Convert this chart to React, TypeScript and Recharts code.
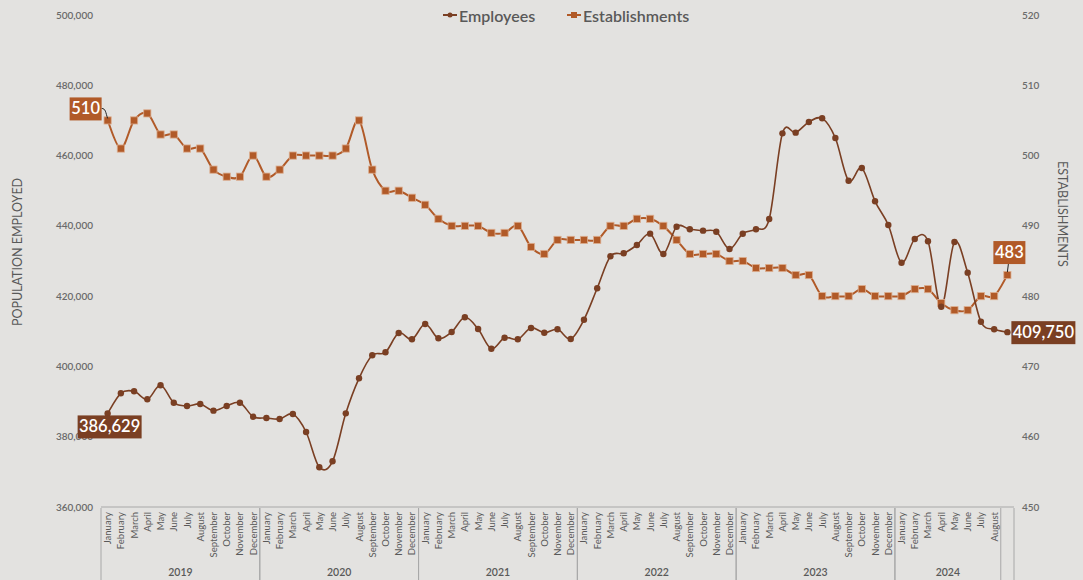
import React from 'react'
import { LineChart, Line, XAxis, YAxis } from 'recharts'

// Jan 2019 .. Sep 2024 (last slot has no month label in the source chart)
const monthNames = [
  'January', 'February', 'March', 'April', 'May', 'June',
  'July', 'August', 'September', 'October', 'November', 'December',
]
const years = ['2019', '2020', '2021', '2022', '2023', '2024']
const monthsInYear = [12, 12, 12, 12, 12, 8]

const employees = [
  386629, 392350, 392920, 390640, 394630, 389680, 388740, 389310, 387410, 388740, 389680, 385690,
  385330, 385040, 386460, 381340, 371300, 373000, 386650, 396620, 403170, 404020, 409500, 407720,
  412070, 408000, 409800, 413980, 410650, 405050, 408180, 407720, 410930, 409600, 410560, 407810,
  413300, 422230, 431340, 432190, 434550, 437780, 431990, 439750, 439020, 438630, 438340, 433420,
  437770, 439020, 441950, 466330, 466520, 469560, 470600, 465000, 452850, 456460, 446990, 440240,
  429520, 436260, 435610, 416990, 435420, 426680, 412730, 410560, 409750,
]

const establishments = [
  505, 501, 505, 506, 503, 503, 501, 501, 498, 497, 497, 500,
  497, 498, 500, 500, 500, 500, 501, 505, 498, 495, 495, 494,
  493, 491, 490, 490, 490, 489, 489, 490, 487, 486, 488, 488,
  488, 488, 490, 490, 491, 491, 490, 488, 486, 486, 486, 485,
  485, 484, 484, 484, 483, 483, 480, 480, 480, 481, 480, 480,
  480, 481, 481, 479, 478, 478, 480, 480, 483,
]

const employeeTicks = [360000, 380000, 400000, 420000, 440000, 460000, 480000, 500000]
const establishmentTicks = [450, 460, 470, 480, 490, 500, 510, 520]

// callout texts as printed on the source chart (first, last)
const employeeCallouts = ['386,629', '409,750']
const establishmentCallouts = ['510', '483']

const EMP_COLOR = '#7a3f23'
const EST_COLOR = '#b15a28'
const TEXT_GRAY = '#595959'
const AXIS_GRAY = '#a8a8a8'
const BG = '#e3e2e0'
const FONT = 'Lato, "Open Sans", sans-serif'

const W = 1083
const H = 580
const PLOT_LEFT = 101
const PLOT_RIGHT = 1014
const PLOT_TOP = 15
const PLOT_BOTTOM = 507

type Row = {
  idx: number
  month: string
  year: string
  firstOfYear: boolean
  lastOfYear: boolean
  span: number
  employees: number
  establishments: number
}

const data: Row[] = []
years.forEach((yr, yi) => {
  for (let m = 0; m < monthsInYear[yi]; m++) {
    const i = data.length
    data.push({
      idx: i,
      month: monthNames[m],
      year: yr,
      firstOfYear: m === 0,
      lastOfYear: m === monthsInYear[yi] - 1,
      span: monthsInYear[yi],
      employees: employees[i],
      establishments: establishments[i],
    })
  }
})
data.push({
  idx: data.length,
  month: '',
  year: '',
  firstOfYear: false,
  lastOfYear: false,
  span: 0,
  employees: employees[data.length],
  establishments: establishments[data.length],
})

const LAST = data.length - 1
const BW = (PLOT_RIGHT - PLOT_LEFT) / data.length

// Excel-like smoothed line (Catmull-Rom through every point)
function smoothCurve(context: any) {
  let pts: number[][] = []
  return {
    areaStart() {},
    areaEnd() {},
    lineStart() {
      pts = []
    },
    point(x: number, y: number) {
      pts.push([+x, +y])
    },
    lineEnd() {
      const n = pts.length
      if (!n) return
      context.moveTo(pts[0][0], pts[0][1])
      for (let i = 0; i < n - 1; i++) {
        const p0 = pts[i - 1] || pts[i]
        const p1 = pts[i]
        const p2 = pts[i + 1]
        const p3 = pts[i + 2] || p2
        context.bezierCurveTo(
          p1[0] + (p2[0] - p0[0]) / 6,
          p1[1] + (p2[1] - p0[1]) / 6,
          p2[0] - (p3[0] - p1[0]) / 6,
          p2[1] - (p3[1] - p1[1]) / 6,
          p2[0],
          p2[1],
        )
      }
    },
  }
}

const MonthTick = (props: any) => {
  const { x, payload } = props
  const d = data[payload.index]
  if (!d) return null
  const axisY = PLOT_BOTTOM + 1
  return (
    <g>
      {d.month && (
        <text
          transform={`translate(${x + 3.5},${axisY + 4}) rotate(-90)`}
          textAnchor="end"
          fontSize={9.5}
          fill={TEXT_GRAY}
          fontFamily={FONT}
        >
          {d.month}
        </text>
      )}
      {d.firstOfYear && (
        <line x1={x - BW / 2} x2={x - BW / 2} y1={axisY} y2={H} stroke={AXIS_GRAY} />
      )}
      {d.firstOfYear && (
        <text
          x={x - BW / 2 + (d.span * BW) / 2}
          y={576}
          textAnchor="middle"
          fontSize={10.5}
          fontWeight={600}
          fill={TEXT_GRAY}
          fontFamily={FONT}
        >
          {d.year}
        </text>
      )}
      {(d.lastOfYear || payload.index === LAST) && (
        <line x1={x + BW / 2} x2={x + BW / 2} y1={axisY} y2={H} stroke={AXIS_GRAY} />
      )}
    </g>
  )
}

const EmployeeDot = (props: any) => {
  const { cx, cy, index } = props
  return <circle key={`e${index}`} cx={cx} cy={cy} r={3.2} fill={EMP_COLOR} />
}

const EstablishmentDot = (props: any) => {
  const { cx, cy, index } = props
  return (
    <rect
      key={`s${index}`}
      x={cx - 3.6}
      y={cy - 3.6}
      width={7.2}
      height={7.2}
      fill={EST_COLOR}
      stroke="#dcae90"
      strokeWidth={0.8}
    />
  )
}

const Callout = ({ x, y, w, text, fill }: { x: number; y: number; w: number; text: string; fill: string }) => (
  <g>
    <rect x={x} y={y} width={w} height={23} fill={fill} />
    <text
      x={x + w / 2}
      y={y + 17}
      textAnchor="middle"
      fontSize={16.5}
      fontWeight={600}
      fill="#ffffff"
      fontFamily={FONT}
    >
      {text}
    </text>
  </g>
)

const renderEmployeeLabel = (props: any) => {
  const { x, y, index } = props
  if (index === 0) {
    return <Callout key="el0" x={x - 30} y={y + 2} w={64} text={employeeCallouts[0]} fill={EMP_COLOR} />
  }
  if (index === LAST) {
    return <Callout key="el1" x={x + 4} y={y - 11} w={64} text={employeeCallouts[1]} fill={EMP_COLOR} />
  }
  return null
}

const renderEstablishmentLabel = (props: any) => {
  const { x, y, index } = props
  if (index === 0) {
    return (
      <g key="sl0">
        <path d={`M${x - 6},${y - 12} C${x - 2},${y - 12} ${x - 2},${y - 8} ${x},${y - 2}`} stroke="#222" fill="none" strokeWidth={1} />
        <Callout x={x - 38} y={y - 23} w={32} text={establishmentCallouts[0]} fill={EST_COLOR} />
      </g>
    )
  }
  if (index === LAST) {
    return (
      <g key="sl1">
        <path d={`M${x + 1},${y - 11} L${x},${y - 3}`} stroke="#222" fill="none" strokeWidth={1} />
        <Callout x={x - 14} y={y - 34} w={32} text={establishmentCallouts[1]} fill={EST_COLOR} />
      </g>
    )
  }
  return null
}

const leftTitle = () => (
  <text
    transform="translate(22,252) rotate(-90)"
    textAnchor="middle"
    fontSize={12.5}
    fill={TEXT_GRAY}
    fontFamily={FONT}
  >
    POPULATION EMPLOYED
  </text>
)

const rightTitle = () => (
  <text
    transform="translate(1058,214) rotate(90)"
    textAnchor="middle"
    fontSize={12.5}
    fill={TEXT_GRAY}
    fontFamily={FONT}
  >
    ESTABLISHMENTS
  </text>
)

function LegendItem({ left, label, square }: { left: number; label: string; square?: boolean }) {
  const color = square ? EST_COLOR : EMP_COLOR
  return (
    <div style={{ position: 'absolute', left, top: 4, display: 'flex', alignItems: 'center', height: 22 }}>
      <svg width={15} height={10} style={{ marginRight: 1 }}>
        <line x1={0} x2={14} y1={5} y2={5} stroke={color} strokeWidth={2} />
        {square ? (
          <rect x={4} y={2} width={6} height={6} fill={color} />
        ) : (
          <circle cx={7} cy={5} r={2.5} fill={color} />
        )}
      </svg>
      <span style={{ fontSize: 16, color: TEXT_GRAY, fontFamily: FONT, fontWeight: 600 }}>{label}</span>
    </div>
  )
}

export default function App() {
  return (
    <div
      style={{
        position: 'absolute',
        left: 0,
        top: 0,
        width: W,
        height: H,
        background: BG,
        fontFamily: FONT,
        overflow: 'hidden',
      }}
    >
      <LineChart width={W} height={H} data={data} margin={{ top: PLOT_TOP, right: 0, bottom: 0, left: 0 }}>
        <XAxis
          dataKey="idx"
          type="category"
          interval={0}
          height={H - PLOT_BOTTOM}
          padding={{ left: BW / 2, right: BW / 2 }}
          tickLine={false}
          axisLine={{ stroke: AXIS_GRAY }}
          tick={<MonthTick />}
        />
        <YAxis
          yAxisId="emp"
          orientation="left"
          width={PLOT_LEFT}
          domain={[360000, 500000]}
          ticks={employeeTicks}
          tickLine={false}
          axisLine={false}
          tickFormatter={(v: number) => v.toLocaleString('en-US')}
          tick={{ fontSize: 10, fill: '#6a6a6a', fontWeight: 600 }}
          label={leftTitle}
        />
        <YAxis
          yAxisId="est"
          orientation="right"
          width={W - PLOT_RIGHT}
          domain={[450, 520]}
          ticks={establishmentTicks}
          tickLine={false}
          axisLine={false}
          tick={{ fontSize: 10, fill: '#6a6a6a', fontWeight: 600, textAnchor: 'start' }}
          label={rightTitle}
        />
        <Line
          yAxisId="est"
          dataKey="establishments"
          type={smoothCurve as any}
          stroke={EST_COLOR}
          strokeWidth={2}
          dot={<EstablishmentDot />}
          activeDot={false}
          label={renderEstablishmentLabel}
          isAnimationActive={false}
        />
        <Line
          yAxisId="emp"
          dataKey="employees"
          type={smoothCurve as any}
          stroke={EMP_COLOR}
          strokeWidth={1.6}
          dot={<EmployeeDot />}
          activeDot={false}
          label={renderEmployeeLabel}
          isAnimationActive={false}
        />
      </LineChart>
      <LegendItem left={443} label="Employees" />
      <LegendItem left={567} label="Establishments" square />
    </div>
  )
}
